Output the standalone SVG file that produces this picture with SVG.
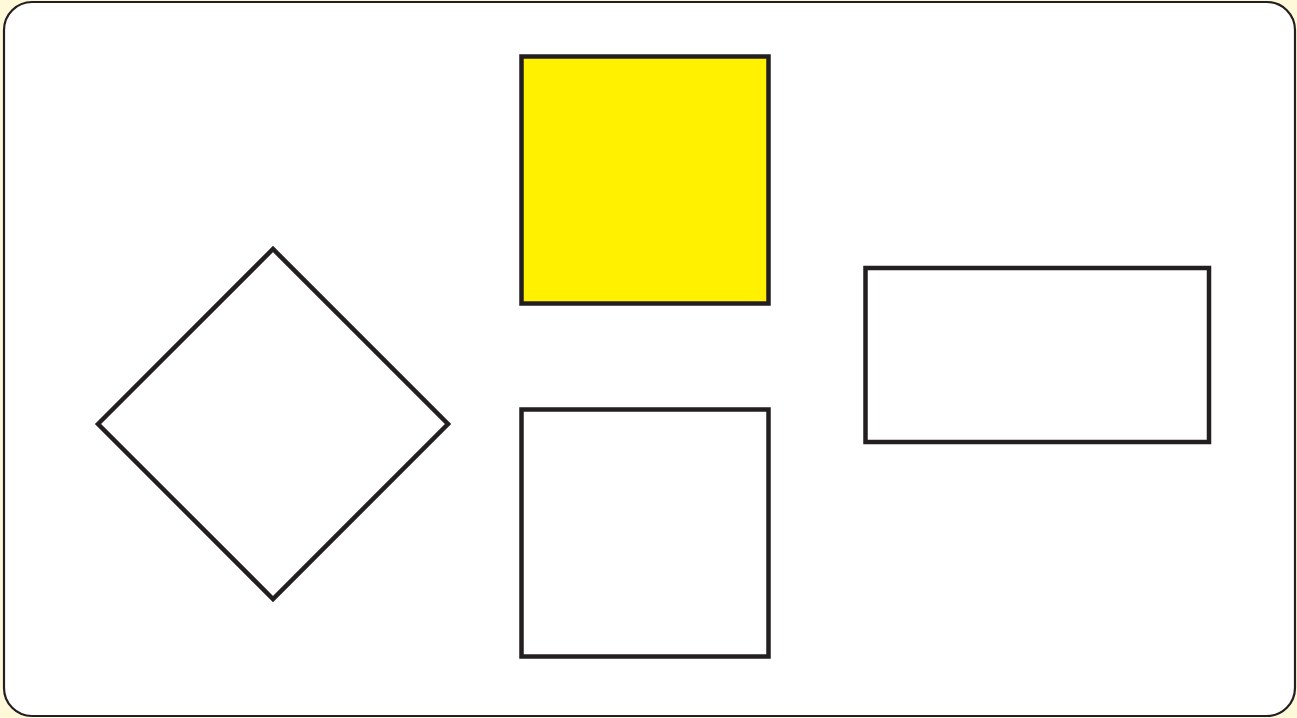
<svg xmlns="http://www.w3.org/2000/svg" width="1297" height="718" viewBox="0 0 1297 718">
<style>
.s{fill:none;stroke:#231f20;stroke-width:4.5}
</style>
<rect x="0" y="0" width="1297" height="718" fill="#fff9d9"/>
<rect id="frame" x="4" y="2" width="1291" height="714" rx="28" ry="28" fill="#ffffff" stroke="#231f20" stroke-width="2.2"/>
<g id="yellow-square"><rect x="521.5" y="56.5" width="247" height="247" class="s" style="fill:#fff100"/></g>
<g id="white-square"><rect x="521.5" y="409.5" width="247" height="247" class="s"/></g>
<g id="rectangle"><rect x="865.5" y="268" width="343.5" height="174" class="s"/></g>
<g id="diamond"><polygon points="98,424 273,249 448,424 273,599" class="s"/></g>
<g id="connectors"></g>
</svg>
